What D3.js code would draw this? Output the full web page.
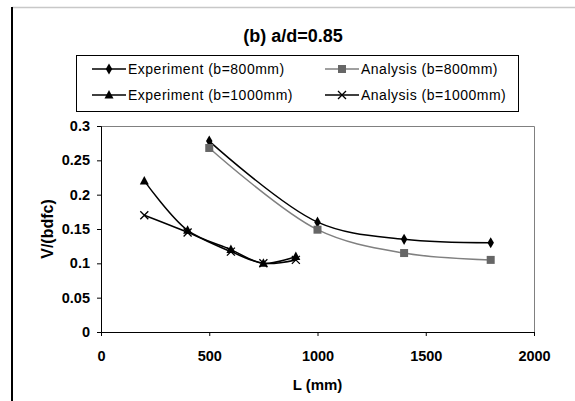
<!DOCTYPE html>
<html>
<head>
<meta charset="utf-8">
<script src="https://cdn.jsdelivr.net/npm/d3@7"></script>
<style>
  body { margin: 0; background: #fff; }
  svg { display: block; font-family: "Liberation Sans", Arial, sans-serif; }
</style>
</head>
<body>
<svg id="chart" width="575" height="401"></svg>
<script>
// ---------------- data ----------------
var xTicks = [0, 500, 1000, 1500, 2000];
var yTicks = [0, 0.05, 0.1, 0.15, 0.2, 0.25, 0.3];

var lenB800 = [500, 1000, 1400, 1800];
var expB800 = [0.278, 0.160, 0.135, 0.130];
var anaB800 = [0.268, 0.149, 0.115, 0.105];

var lenB1000 = [200, 400, 600, 750, 900];
var expB1000 = [0.220, 0.148, 0.120, 0.100, 0.110];
var anaB1000 = [0.170, 0.145, 0.117, 0.100, 0.105];

var series = [
  { name: "Experiment (b=800mm)",  x: lenB800,  y: expB800,  color: "#000", mcolor: "#000", marker: "diamond" },
  { name: "Analysis (b=800mm)",    x: lenB800,  y: anaB800,  color: "#808080", mcolor: "#666", marker: "square" },
  { name: "Experiment (b=1000mm)", x: lenB1000, y: expB1000, color: "#000", mcolor: "#000", marker: "triangle" },
  { name: "Analysis (b=1000mm)",   x: lenB1000, y: anaB1000, color: "#000", mcolor: "#000", marker: "cross" }
];

var svg = d3.select("#chart");

// outer frame bits
svg.append("line").attr("x1", 12).attr("x2", 575).attr("y1", 7.5).attr("y2", 7.5)
  .attr("stroke", "#c8c8c8").attr("stroke-width", 1.5);
svg.append("line").attr("x1", 12).attr("x2", 12).attr("y1", 7).attr("y2", 401)
  .attr("stroke", "#000").attr("stroke-width", 2);

var margin = { left: 101, right: 41, top: 126, bottom: 69 };
var width = 575 - margin.left - margin.right,
    height = 401 - margin.top - margin.bottom;

var x = d3.scaleLinear().domain([0, 2000]).range([0, width]);
var y = d3.scaleLinear().domain([0, 0.3]).range([height, 0]);

var g = svg.append("g").attr("transform", "translate(" + margin.left + "," + margin.top + ")");

// plot area border (top/right gray)
g.append("path")
  .attr("d", "M0,0.5H" + (width + 0.5) + "V" + height)
  .attr("fill", "none").attr("stroke", "#808080").attr("stroke-width", 1);

// axes
var yAxis = g.append("g")
  .call(d3.axisLeft(y).tickValues(yTicks).tickSize(4).tickPadding(7)
    .tickFormat(function(d) { return String(+d.toFixed(2)); }));
var xAxis = g.append("g").attr("transform", "translate(0," + height + ")")
  .call(d3.axisBottom(x).tickValues(xTicks).tickSize(4).tickPadding(15)
    .tickFormat(d3.format("d")));

[xAxis, yAxis].forEach(function(a) {
  a.select(".domain").attr("stroke", "#000");
  a.selectAll(".tick line").attr("stroke", "#000");
  a.selectAll("text").attr("font-size", 14.5).attr("font-weight", "bold").attr("fill", "#000");
});

// axis titles
g.append("text").attr("x", width / 2).attr("y", height + 58)
  .attr("text-anchor", "middle").attr("font-size", 15).attr("font-weight", "bold").text("L (mm)");
g.append("text").attr("transform", "translate(-48," + (height / 2) + ") rotate(-90)")
  .attr("text-anchor", "middle").attr("font-size", 16).attr("font-weight", "bold").text("V/(bdfc)");

// title
svg.append("text").attr("x", 293).attr("y", 42).attr("text-anchor", "middle")
  .attr("font-size", 18).attr("font-weight", "bold").text("(b) a/d=0.85");

// markers
function drawMarker(sel, type, color) {
  if (type === "diamond") {
    sel.append("path").attr("d", d3.symbol(d3.symbolDiamond, 36)).attr("fill", color);
  } else if (type === "square") {
    sel.append("rect").attr("x", -4).attr("y", -4).attr("width", 8).attr("height", 8).attr("fill", color);
  } else if (type === "triangle") {
    sel.append("path").attr("d", "M0,-5L4.5,3.5L-4.5,3.5Z").attr("fill", color);
  } else {
    sel.append("path").attr("d", "M-4,-4L4,4M-4,4L4,-4").attr("stroke", color).attr("stroke-width", 1.3).attr("fill", "none");
  }
}

var line = d3.line()
  .x(function(d) { return x(d[0]); })
  .y(function(d) { return y(d[1]); })
  .curve(d3.curveCatmullRom.alpha(0.5));

series.forEach(function(s) {
  var pts = s.x.map(function(v, i) { return [v, s.y[i]]; });
  g.append("path").datum(pts).attr("d", line)
    .attr("fill", "none").attr("stroke", s.color).attr("stroke-width", 1.5);
  pts.forEach(function(p) {
    var m = g.append("g").attr("transform", "translate(" + x(p[0]) + "," + y(p[1]) + ")");
    drawMarker(m, s.marker, s.mcolor);
  });
});

// legend
var legend = svg.append("g");
legend.append("rect").attr("x", 76.5).attr("y", 55.5).attr("width", 442).attr("height", 56)
  .attr("fill", "#fff").attr("stroke", "#000").attr("stroke-width", 1);

var legPos = [[92, 69], [325, 69], [92, 95], [325, 95]];
series.forEach(function(s, i) {
  var lx = legPos[i][0], ly = legPos[i][1];
  var item = legend.append("g").attr("transform", "translate(" + lx + "," + ly + ")");
  item.append("line").attr("x1", 0).attr("x2", 34).attr("y1", 0).attr("y2", 0)
    .attr("stroke", s.color).attr("stroke-width", 1.5);
  drawMarker(item.append("g").attr("transform", "translate(17,0)"), s.marker, s.mcolor);
  item.append("text").attr("x", 36).attr("y", 0).attr("dy", "0.35em")
    .attr("font-size", 14).attr("letter-spacing", 0.5).attr("fill", "#000").text(s.name);
});
</script>
</body>
</html>
